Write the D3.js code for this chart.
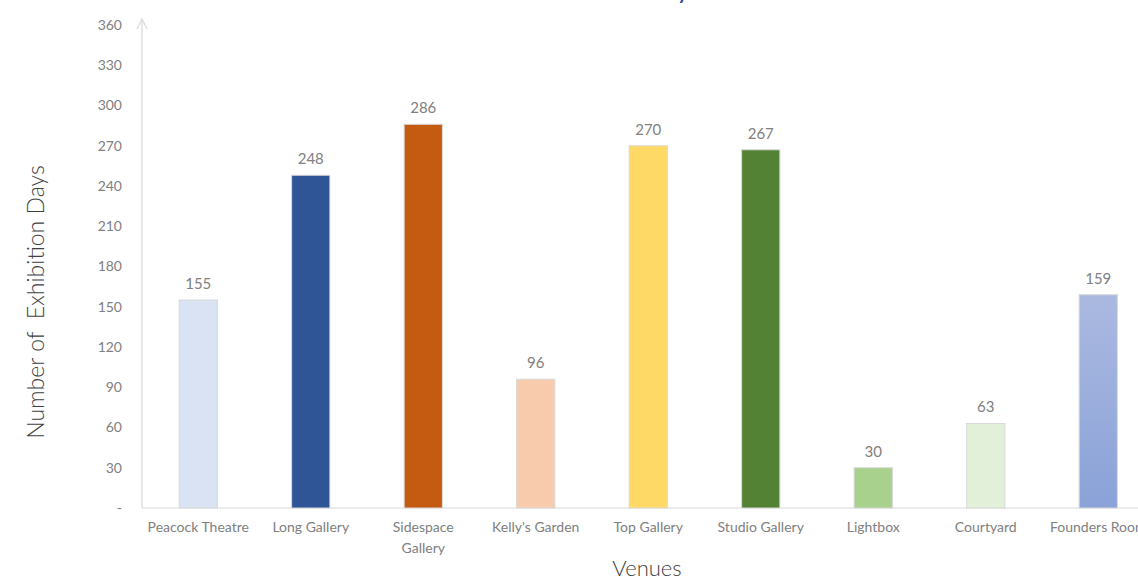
<!DOCTYPE html>
<html>
<head>
<meta charset="utf-8">
<script src="https://cdn.jsdelivr.net/npm/d3@7"></script>
<style>
  html, body { margin: 0; padding: 0; background: #ffffff; }
  svg { display: block; font-family: "Lato", "Noto Sans", sans-serif; }
</style>
</head>
<body>
<svg id="chart" width="1138" height="580"></svg>
<script>
// Exhibition days recorded for each venue
const venues = ["Peacock Theatre", "Long Gallery", "Sidespace Gallery", "Kelly's Garden",
                "Top Gallery", "Studio Gallery", "Lightbox", "Courtyard", "Founders Room"];
const days = [155, 248, 286, 96, 270, 267, 30, 63, 159];
const barColors = ["#dae3f3", "#2f5597", "#c55a11", "#f8cbad", "#ffd966",
                   "#548235", "#a9d18e", "#e2f0d9", "url(#foundersFill)"];
const yTicks = [0, 30, 60, 90, 120, 150, 180, 210, 240, 270, 300, 330, 360];
const chartTitle = "Number of Days in Venue";
const xTitle = "Venues";
const yTitle = "Number of  Exhibition Days";

const svg = d3.select("#chart");
const margin = { left: 142, top: 25, bottom: 508 };

// Gradient for the last bar
const defs = svg.append("defs");
const grad = defs.append("linearGradient")
  .attr("id", "foundersFill").attr("x1", 0).attr("y1", 0).attr("x2", 0).attr("y2", 1);
grad.append("stop").attr("offset", "0%").attr("stop-color", "#abb9e0");
grad.append("stop").attr("offset", "100%").attr("stop-color", "#8aa2d8");

const x = d3.scaleBand().domain(venues).range([142, 1154.5]).paddingInner(0.66).paddingOuter(0.33);
const y = d3.scaleLinear().domain([0, 360]).range([margin.bottom, margin.top]);

// Title (sits mostly above the visible area)
svg.append("text")
  .attr("x", 660).attr("y", -2)
  .attr("text-anchor", "middle")
  .attr("font-size", 27)
  .attr("font-weight", 400)
  .attr("fill", "#2f5597")
  .text(chartTitle);

// Y axis with arrow head
const yAxis = d3.axisLeft(y).tickValues(yTicks).tickSize(0).tickPadding(20)
  .tickFormat(d => d === 0 ? "-" : d);
const gy = svg.append("g").attr("transform", `translate(${margin.left},0)`).call(yAxis);
gy.select(".domain").remove();
gy.selectAll("text").attr("fill", "#808080").attr("font-size", 14)
  .attr("font-family", "Lato, sans-serif");

svg.append("line")
  .attr("x1", margin.left).attr("x2", margin.left)
  .attr("y1", y(0)).attr("y2", 19)
  .attr("stroke", "#d9d9d9").attr("stroke-width", 1.2);
svg.append("path")
  .attr("d", `M${margin.left - 5},29 L${margin.left},19 L${margin.left + 5},29`)
  .attr("fill", "none").attr("stroke", "#d9d9d9").attr("stroke-width", 1.2);

// X axis baseline
svg.append("line")
  .attr("x1", margin.left).attr("x2", 1138)
  .attr("y1", y(0)).attr("y2", y(0))
  .attr("stroke", "#d9d9d9").attr("stroke-width", 1.2);

// Bars
svg.append("g").selectAll("rect")
  .data(venues)
  .join("rect")
  .attr("x", d => x(d))
  .attr("y", (d, i) => y(days[i]))
  .attr("width", x.bandwidth())
  .attr("height", (d, i) => y(0) - y(days[i]))
  .attr("fill", (d, i) => barColors[i])
  .attr("stroke", "#d9d9d9")
  .attr("stroke-width", 1);

// Value labels
svg.append("g").selectAll("text")
  .data(venues)
  .join("text")
  .attr("x", d => x(d) + x.bandwidth() / 2)
  .attr("y", (d, i) => y(days[i]) - 11)
  .attr("text-anchor", "middle")
  .attr("font-size", 15)
  .attr("fill", "#808080")
  .text((d, i) => days[i]);

// Category labels (wrap long names onto two lines)
const catG = svg.append("g");
venues.forEach(v => {
  const cx = x(v) + x.bandwidth() / 2;
  const lines = v === "Sidespace Gallery" ? ["Sidespace", "Gallery"] : [v];
  const t = catG.append("text")
    .attr("x", cx).attr("y", 532)
    .attr("text-anchor", "middle")
    .attr("font-size", 14)
    .attr("fill", "#808080");
  lines.forEach((ln, k) => {
    t.append("tspan").attr("x", cx).attr("dy", k === 0 ? 0 : 21).text(ln);
  });
});

// Axis titles
svg.append("text")
  .attr("x", 647).attr("y", 576)
  .attr("text-anchor", "middle")
  .attr("font-size", 22)
  .attr("font-weight", 300)
  .attr("fill", "#404040")
  .text(xTitle);

svg.append("text")
  .attr("transform", "translate(44,302) rotate(-90)")
  .attr("text-anchor", "middle")
  .attr("font-size", 23)
  .attr("font-weight", 300)
  .attr("fill", "#404040")
  .text(yTitle)
  .style("white-space", "pre");
</script>
</body>
</html>
